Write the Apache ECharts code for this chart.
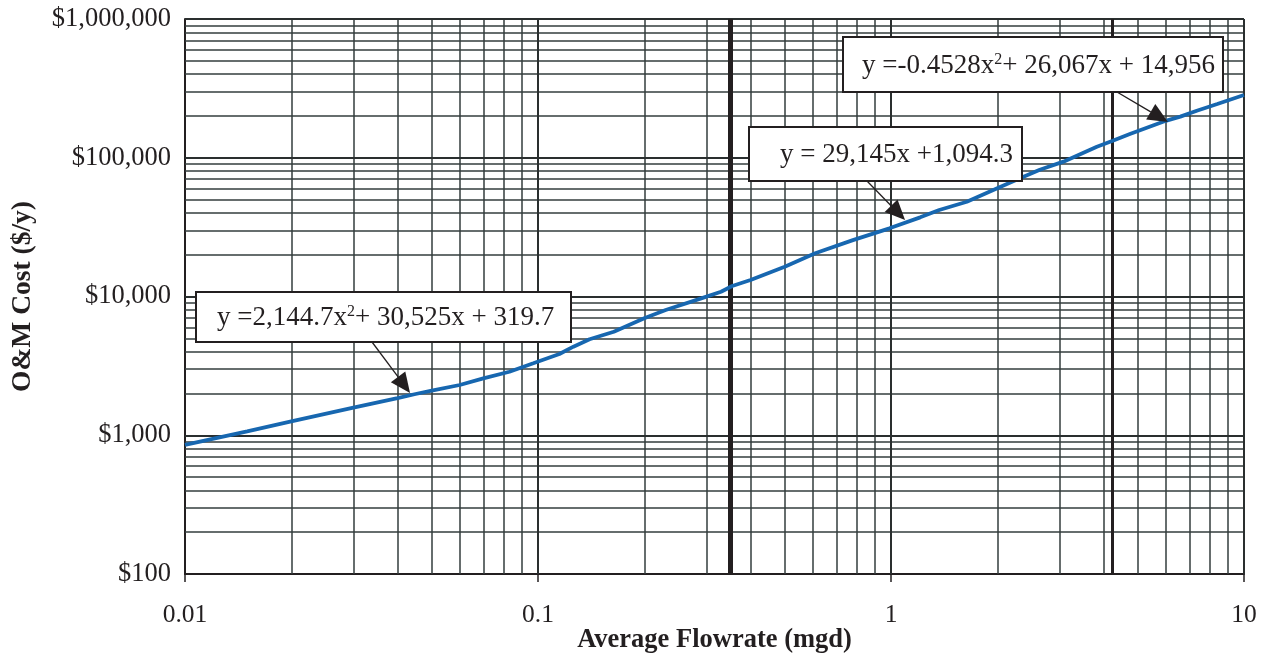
<!DOCTYPE html>
<html>
<head>
<meta charset="utf-8">
<script src="https://cdn.jsdelivr.net/npm/echarts@6/dist/echarts.min.js"></script>
<style>
html,body{margin:0;padding:0;background:#fff;}
#chart{width:1266px;height:655px;}
</style>
</head>
<body>
<div id="chart"></div>
<script>
// Average flowrate (mgd)
const flow = [0.01,0.015,0.02,0.03,0.04,0.045,0.05,0.06,0.07,0.083,0.097,0.115,0.126,0.14,0.164,0.2,0.23,0.29,0.33,0.355,0.4,0.5,0.61,0.78,0.99,1.21,1.37,1.64,2.0,2.32,2.64,3.08,3.83,4.23,4.75,5.9,6.6,7.35,8.4,10];
// O&M cost ($/y)
const cost = [851,1068,1258,1580,1854,1983,2094,2302,2573,2870,3300,3850,4350,4920,5575,6970,7990,9700,10830,11910,13150,16400,20500,25500,31000,37200,42000,48200,60200,71100,82000,93700,120200,132000,148300,182000,197800,218200,243800,283300];
// segment break lines
const breaks = [0.355, 4.23];
const xTicks = [0.01, 0.1, 1, 10];
const xTickLabels = ['0.01', '0.1', '1', '10'];
const yTicks = [100, 1000, 10000, 100000, 1000000];
const yTickLabels = ['$100', '$1,000', '$10,000', '$100,000', '$1,000,000'];
// equation annotations: text, arrow tip (data coords)
const eqTexts = ['y =2,144.7x{s|2}+ 30,525x + 319.7', 'y = 29,145x +1,094.3', 'y =-0.4528x{s|2}+ 26,067x + 14,956'];
const eqTips = [[0.0434, 2016], [1.096, 35600], [6.09, 181000]];

const FONT = '"Liberation Serif","Times New Roman",serif';
const INK = '#231f20';
const GRID = '#333c3c';

function minorLines(ticks) {
  const out = [];
  for (let i = 0; i < ticks.length - 1; i++) {
    for (let k = 2; k <= 9; k++) out.push(ticks[i] * k);
  }
  return out;
}

const gridData = [];
minorLines(xTicks).forEach(v => gridData.push({xAxis: v}));
minorLines(yTicks).forEach(v => gridData.push({yAxis: v}));
xTicks.slice(1).forEach(v => gridData.push({xAxis: v, lineStyle: {width: 2, color: '#2a2f2f'}}));
yTicks.slice(1).forEach(v => gridData.push({yAxis: v, lineStyle: {width: 2, color: '#2a2f2f'}}));
gridData.push({xAxis: breaks[0], lineStyle: {width: 5, color: INK}});
gridData.push({xAxis: breaks[1], lineStyle: {width: 3, color: INK}});

const chart = echarts.init(document.getElementById('chart'), null, {renderer: 'canvas'});
chart.setOption({
  animation: false,
  backgroundColor: '#fff',
  grid: {left: 185, right: 22, top: 19, bottom: 81, containLabel: false, outerBoundsMode: 'none'},
  xAxis: {
    type: 'log', logBase: 10, min: 0.01, max: 10,
    name: 'Average Flowrate (mgd)', nameLocation: 'middle', nameGap: 53, nameMoveOverlap: false,
    nameTextStyle: {fontFamily: FONT, fontSize: 26.5, fontWeight: 'bold', color: INK},
    axisLine: {show: true, lineStyle: {color: INK, width: 2}},
    axisTick: {show: true, length: 8, lineStyle: {color: INK, width: 1.5}},
    axisLabel: {
      margin: 28, fontFamily: FONT, fontSize: 25.5, color: INK,
      formatter: v => { const i = xTicks.findIndex(t => Math.abs(Math.log10(t) - Math.log10(v)) < 1e-6); return i >= 0 ? xTickLabels[i] : ''; }
    },
    splitLine: {show: false}
  },
  yAxis: {
    type: 'log', logBase: 10, min: 100, max: 1000000,
    name: 'O&M Cost ($/y)', nameLocation: 'middle', nameGap: 148, nameRotate: 90, nameMoveOverlap: false,
    nameTextStyle: {fontFamily: FONT, fontSize: 27.5, fontWeight: 'bold', color: INK},
    axisLine: {show: true, lineStyle: {color: INK, width: 2}},
    axisTick: {show: false},
    axisLabel: {
      margin: 14, fontFamily: FONT, fontSize: 26.5, color: INK,
      formatter: v => { const i = yTicks.findIndex(t => Math.abs(Math.log10(t) - Math.log10(v)) < 1e-6); return i >= 0 ? yTickLabels[i] : ''; }
    },
    splitLine: {show: false}
  },
  series: [
    {
      type: 'line', z: 1, silent: true, showSymbol: false,
      data: flow.map((x, i) => [x, cost[i]]),
      lineStyle: {width: 0, opacity: 0},
      markLine: {
        silent: true, symbol: ['none', 'none'], animation: false,
        label: {show: false},
        lineStyle: {type: 'solid', width: 1.5, color: GRID},
        emphasis: {disabled: true},
        data: gridData
      }
    },
    {
      type: 'line', z: 5, showSymbol: false, smooth: false,
      data: flow.map((x, i) => [x, cost[i]]),
      lineStyle: {width: 3.8, color: '#1767b0'},
      itemStyle: {color: '#1767b0'}
    }
  ]
});

// annotation boxes (pixel layout) with arrows to points on the curve
const boxes = [
  {x: 196, y: 292, w: 375, h: 50, tx: 217, sx: 372},
  {x: 749, y: 127, w: 273, h: 54, tx: 780, sx: 867},
  {x: 843, y: 37, w: 380, h: 55, tx: 862, sx: 1117}
];
const graphics = [];
boxes.forEach((b, i) => {
  const tip = chart.convertToPixel({xAxisIndex: 0, yAxisIndex: 0}, eqTips[i]);
  const sx = b.sx, sy = b.y + b.h;
  const dx = tip[0] - sx, dy = tip[1] - sy;
  const len = Math.sqrt(dx * dx + dy * dy);
  const ux = dx / len, uy = dy / len;
  const hl = 20, hw = 9;
  const bx = tip[0] - ux * hl, by = tip[1] - uy * hl;
  graphics.push({
    type: 'line', z: 20, silent: true,
    shape: {x1: sx, y1: sy, x2: bx, y2: by},
    style: {stroke: INK, lineWidth: 1.3}
  });
  graphics.push({
    type: 'polygon', z: 20, silent: true,
    shape: {points: [[tip[0], tip[1]], [bx - uy * hw, by + ux * hw], [bx + uy * hw, by - ux * hw]]},
    style: {fill: INK}
  });
  graphics.push({
    type: 'rect', z: 21, silent: true,
    shape: {x: b.x, y: b.y, width: b.w, height: b.h},
    style: {fill: '#fff', stroke: INK, lineWidth: 2}
  });
  graphics.push({
    type: 'text', z: 22, silent: true,
    x: b.tx, y: b.y + b.h / 2 + 1,
    style: {
      text: eqTexts[i], fontFamily: FONT, fontSize: 27, fill: INK,
      align: 'left', verticalAlign: 'middle',
      rich: {s: {fontFamily: FONT, fontSize: 16, fill: INK, verticalAlign: 'top', padding: [0, 0, 12, 0]}}
    }
  });
});
chart.setOption({graphic: graphics});
</script>
</body>
</html>
